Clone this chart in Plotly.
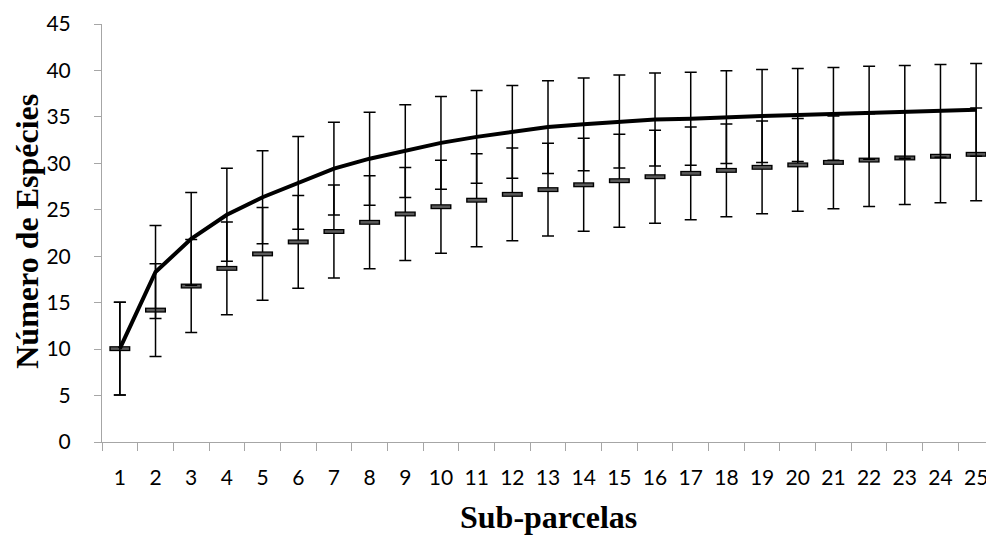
import plotly.graph_objects as go

categories = [str(i) for i in range(1, 26)]
line_values = [10.05, 18.3, 21.87, 24.46, 26.35, 27.9, 29.43, 30.5, 31.31, 32.2,
               32.85, 33.39, 33.9, 34.2, 34.5, 34.72, 34.8, 34.97, 35.09, 35.2,
               35.33, 35.44, 35.54, 35.65, 35.76]
marker_values = [10.05, 14.2, 16.79, 18.69, 20.25, 21.54, 22.66, 23.65, 24.55, 25.33,
                 26.03, 26.66, 27.17, 27.69, 28.13, 28.56, 28.92, 29.24, 29.57, 29.83,
                 30.1, 30.35, 30.58, 30.76, 30.97]
error_value = 5
y_ticks = list(range(0, 50, 5))

# page has an 8px body margin; figure coordinates = page coordinates - 8
OFF = 8
W, H = 994 - OFF, 538 - OFF
L, R, T = 102 - OFF, 0, 24 - OFF
B = H - (442.5 - OFF)
pw, ph = W - L - R, H - T - B

fig = go.Figure()

# marker series (outline + fill) with error bars
fig.add_trace(go.Scatter(
    x=categories, y=marker_values, mode="markers",
    marker=dict(symbol="line-ew", size=15, line=dict(width=5, color="black")),
    error_y=dict(type="constant", value=error_value, color="black", thickness=1.5, width=6),
    showlegend=False, hoverinfo="skip"))
fig.add_trace(go.Scatter(
    x=categories, y=marker_values, mode="markers",
    marker=dict(symbol="line-ew", size=13, line=dict(width=2.5, color="#5a5a5a")),
    showlegend=False, hoverinfo="skip"))

# line series with error bars
fig.add_trace(go.Scatter(
    x=categories, y=line_values, mode="lines",
    line=dict(color="black", width=4),
    error_y=dict(type="constant", value=error_value, color="black", thickness=1.5, width=6),
    showlegend=False, hoverinfo="skip"))

axis_col = "#a6a6a6"
fig.update_layout(
    width=W, height=H,
    margin=dict(l=L, r=R, t=T, b=B, autoexpand=False),
    plot_bgcolor="white", paper_bgcolor="white",
    font=dict(family="Lato", size=20, color="black"),
    xaxis=dict(type="category", range=[-0.5, 24.5], tickson="boundaries", ticks="outside",
               ticklen=8, tickcolor=axis_col, showline=True, linecolor=axis_col, linewidth=1,
               showgrid=False, zeroline=False, tickfont=dict(family="Lato", size=21),
               ticklabelstandoff=17, automargin=False),
    yaxis=dict(range=[0, 45], tickvals=y_ticks, ticks="outside", ticklen=7,
               tickcolor=axis_col, showline=True, linecolor=axis_col, linewidth=1,
               showgrid=False, zeroline=False, tickfont=dict(family="Lato", size=21),
               ticklabelstandoff=19, automargin=False),
    annotations=[
        dict(text="<b>Número de Espécies</b>", xref="paper", yref="paper",
             x=(27 - OFF - L) / pw, y=(H - B - (232 - OFF)) / ph, textangle=-90,
             showarrow=False, font=dict(family="Liberation Serif", size=32, color="black"),
             xanchor="center", yanchor="middle"),
        dict(text="<b>Sub-parcelas</b>", xref="paper", yref="paper",
             x=0.5, y=(H - B - (518 - OFF)) / ph, showarrow=False,
             font=dict(family="Liberation Serif", size=32, color="black"),
             xanchor="center", yanchor="middle"),
    ],
)

fig.write_html("out.html")
